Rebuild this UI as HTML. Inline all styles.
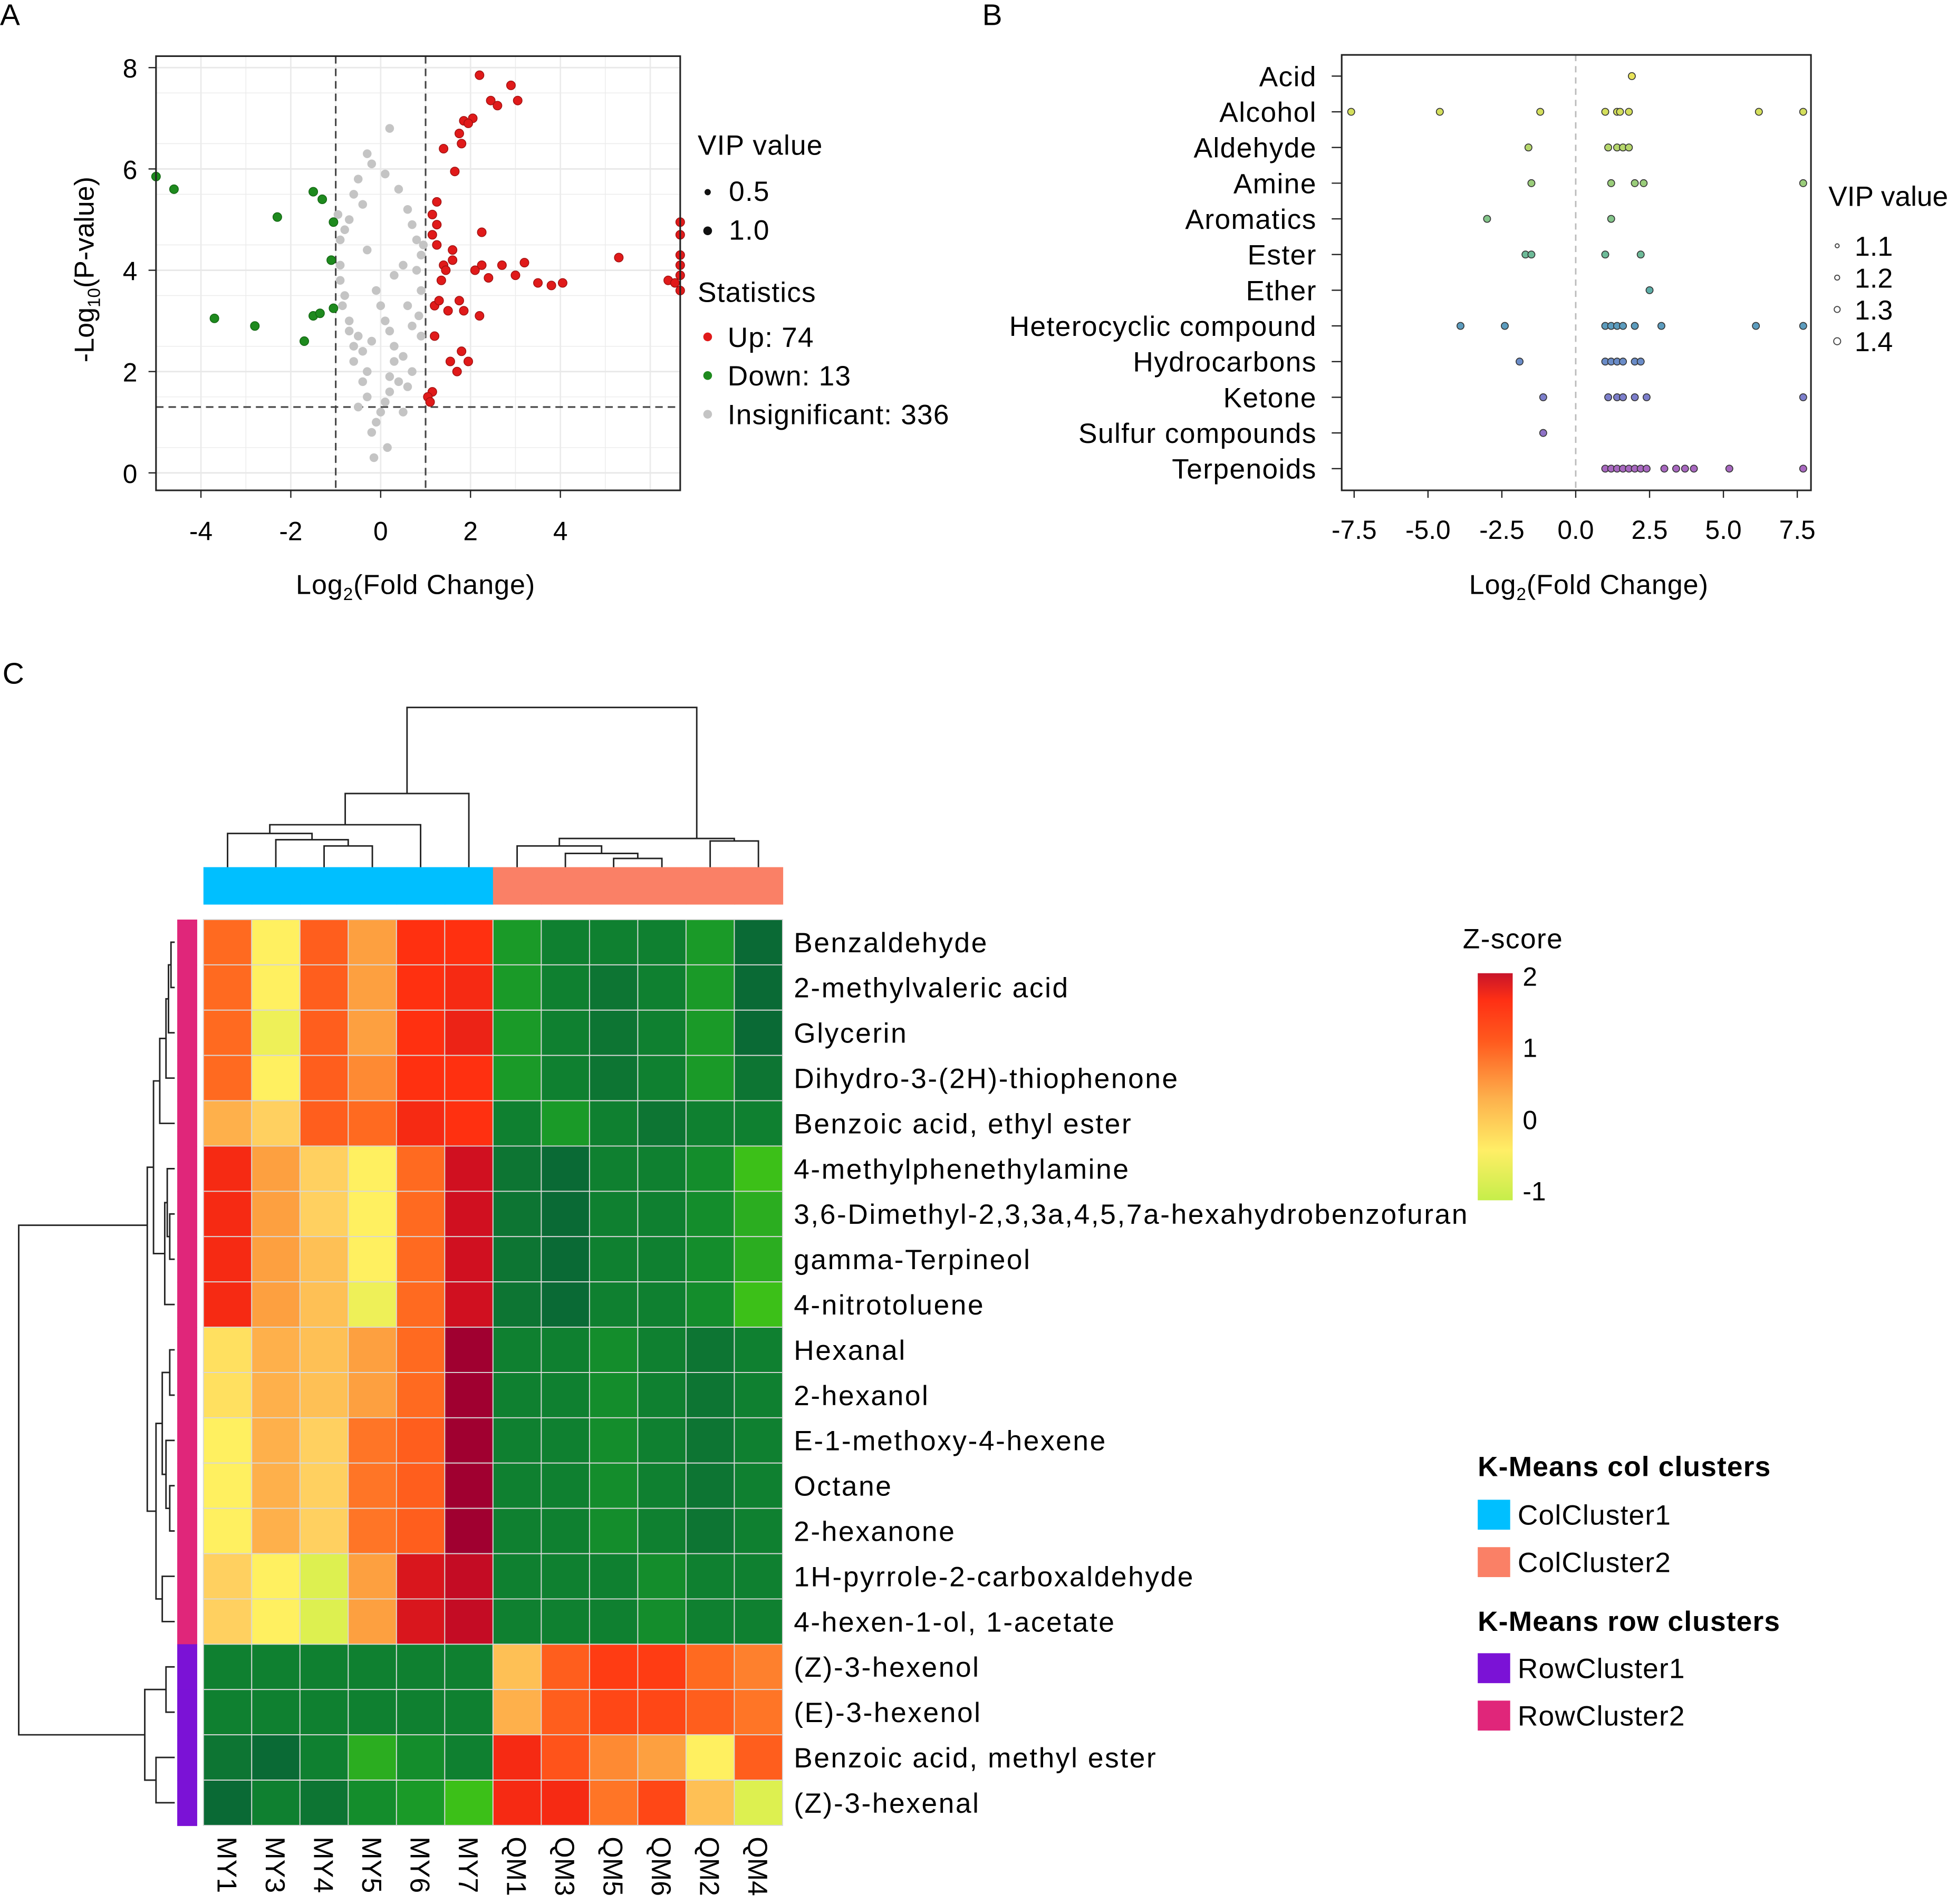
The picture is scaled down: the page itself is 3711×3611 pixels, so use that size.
<!DOCTYPE html>
<html><head><meta charset="utf-8"><style>
html,body{margin:0;padding:0;background:#fff}
svg{display:block;font-family:"Liberation Sans",Arial,sans-serif}
</style></head><body>
<svg id="fig" width="3711" height="3611" viewBox="0 0 1568 1526" preserveAspectRatio="none" xmlns="http://www.w3.org/2000/svg">
<rect width="1568" height="1526" fill="#fff"/>
<text x="0" y="20" font-size="24">A</text>
<text x="787" y="20" font-size="24">B</text>
<text x="2" y="548" font-size="24">C</text>
<g id="pa"></g>
<g id="pb"></g>
<g id="pc"></g>
</svg>
<script>
const NS="http://www.w3.org/2000/svg";
function mk(p,t,a,txt){const e=document.createElementNS(NS,t);for(const k in a)e.setAttribute(k,a[k]);if(txt!==undefined)e.textContent=txt;p.appendChild(e);return e;}

// ---------- Panel A data ----------
const upX=[2.2,2.9,3.05,2.45,2.6,2.05,1.85,1.95,1.75,1.8,1.4,1.65,1.25,1.15,1.25,1.15,1.25,2.25,1.6,1.4,1.45,1.35,1.6,2.1,2.25,2.4,2.7,3.0,3.2,3.5,3.8,4.05,5.3,6.4,6.55,6.67,6.67,6.67,6.67,6.67,6.67,1.2,1.3,1.5,1.75,1.85,2.2,1.8,1.95,1.7,1.55,1.2,1.15,1.05,1.1];
const upY=[7.85,7.65,7.35,7.35,7.25,7.0,6.95,6.9,6.7,6.5,6.4,5.95,5.35,5.1,4.9,4.7,4.5,4.75,4.4,4.1,4.0,3.8,4.2,4.0,4.1,3.85,4.1,3.9,4.15,3.75,3.7,3.75,4.25,3.8,3.75,4.95,4.7,4.3,4.1,3.9,3.6,3.3,3.4,3.2,3.4,3.2,3.1,2.4,2.2,2.0,2.2,2.7,1.6,1.5,1.4];
const downX=[-5,-4.6,-2.3,-1.5,-1.3,-1.05,-1.1,-3.7,-2.8,-1.7,-1.5,-1.35,-1.05];
const downY=[5.85,5.6,5.05,5.55,5.4,4.95,4.2,3.05,2.9,2.6,3.1,3.15,3.25];
const insX=[-0.3,-0.2,-0.5,-0.6,-0.4,-0.7,-0.8,-0.9,-0.3,0.1,0.2,0.4,0.6,0.7,0.8,0.9,0.5,0.3,-0.1,0,0.1,0.2,-0.2,-0.4,-0.6,-0.8,-0.9,-0.7,-0.5,-0.3,0.3,0.5,0.7,0.9,0.8,0.6,0.4,0.2,0,-0.1,-0.2,-0.3,0.1,0.2,0.3,-0.4,-0.5,0.5,0.6,-0.6,0.7,-0.7,0.85,-0.85,0.95,-0.95,0.9,-0.9,0.15,-0.15];
const insY=[6.3,6.1,5.8,5.5,5.3,5.0,4.8,4.6,4.4,5.9,6.8,5.6,5.2,4.9,4.6,4.3,4.1,3.9,3.6,3.3,3.0,2.8,2.6,2.4,2.2,3.5,3.8,3.0,2.7,2.0,2.5,2.3,2.9,3.6,4.0,3.3,1.8,1.6,1.2,1.0,0.8,1.5,1.4,1.9,2.2,1.8,1.3,1.2,1.7,2.5,2.0,2.8,3.1,3.3,4.5,5.1,2.7,4.1,0.5,0.3];

(function(){
const g=document.getElementById('pa');
const L=125,R=545,T=45,B=393;
const xs=v=>305+36*v, ys=v=>379-40.6*v;
mk(g,'rect',{x:L,y:T,width:R-L,height:B-T,fill:'#fff'});
for(let v=-5;v<=6.5;v+=1){mk(g,'line',{x1:xs(v),x2:xs(v),y1:T,y2:B,stroke:'#ebebeb','stroke-width':v%2===0?1.2:0.6});}
for(let v=-0.5;v<=8.5;v+=1){if(ys(v)<T||ys(v)>B)continue;mk(g,'line',{x1:L,x2:R,y1:ys(v),y2:ys(v),stroke:'#ebebeb','stroke-width':0.6});}
for(let v=0;v<=8;v+=2){mk(g,'line',{x1:L,x2:R,y1:ys(v),y2:ys(v),stroke:'#e8e8e8','stroke-width':1.2});}
[-1,1].forEach(v=>mk(g,'line',{x1:xs(v),x2:xs(v),y1:T,y2:B,stroke:'#444','stroke-dasharray':'6,4','stroke-width':1.3}));
mk(g,'line',{x1:L,x2:R,y1:ys(1.3),y2:ys(1.3),stroke:'#444','stroke-dasharray':'6,4','stroke-width':1.3});
insX.forEach((v,i)=>{const c=mk(g,'circle',{cx:xs(v),cy:ys(insY[i]),r:3.5,fill:'#c4c4c4'});

});
downX.forEach((v,i)=>{const c=mk(g,'circle',{cx:Math.max(L,xs(v)),cy:ys(downY[i]),r:3.5,fill:'#1e8a1e',stroke:'#126612','stroke-width':0.6});

});
upX.forEach((v,i)=>{const c=mk(g,'circle',{cx:Math.min(R,xs(v)),cy:ys(upY[i]),r:3.5,fill:'#e01a1a',stroke:'#a01010','stroke-width':0.6});

});
mk(g,'rect',{x:L,y:T,width:R-L,height:B-T,fill:'none',stroke:'#222','stroke-width':1.3});
[-4,-2,0,2,4].forEach(v=>{mk(g,'line',{x1:xs(v),x2:xs(v),y1:B,y2:B+6,stroke:'#222'});
const t=mk(g,'text',{x:xs(v),y:433,'font-size':21,'text-anchor':'middle'},v);

});
[0,2,4,6,8].forEach(v=>{mk(g,'line',{x1:L-6,x2:L,y1:ys(v),y2:ys(v),stroke:'#222'});
const t=mk(g,'text',{x:110,y:ys(v)+8,'font-size':21,'text-anchor':'end'},v);

});
const xt=mk(g,'text',{x:333,y:476,'font-size':22,'text-anchor':'middle','letter-spacing':'0.4'});
xt.innerHTML='Log<tspan font-size="14" dy="5">2</tspan><tspan dy="-5">(Fold Change)</tspan>';


const yt=mk(g,'text',{transform:'translate(75,216) rotate(-90)','font-size':22,'text-anchor':'middle'});
yt.innerHTML='-Log<tspan font-size="14" dy="5">10</tspan><tspan dy="-5">(P-value)</tspan>';


const lg=mk(g,'g',{'letter-spacing':'0.5'});


mk(lg,'text',{x:559,y:124,'font-size':22.5},'VIP value');
mk(lg,'circle',{cx:567,cy:154,r:2.5,fill:'#111'});mk(lg,'text',{x:584,y:161,'font-size':22.5},'0.5');
mk(lg,'circle',{cx:567,cy:185,r:3.5,fill:'#111'});mk(lg,'text',{x:584,y:192,'font-size':22.5},'1.0');
mk(lg,'text',{x:559,y:242,'font-size':22.5},'Statistics');
[['#e01a1a','Up: 74',270],['#1e8a1e','Down: 13',301],['#c4c4c4','Insignificant: 336',332]].forEach(a=>{
mk(lg,'circle',{cx:567,cy:a[2],r:3.5,fill:a[0]});mk(lg,'text',{x:583,y:a[2]+8,'font-size':22.5},a[1]);});
})();

// ---------- Panel B data ----------
const bCats=['Acid','Alcohol','Aldehyde','Amine','Aromatics','Ester','Ether','Heterocyclic compound','Hydrocarbons','Ketone','Sulfur compounds','Terpenoids'];
const bVals=[[1.9],[-7.6,-4.6,-1.2,1.0,1.4,1.5,1.8,6.2,7.7],[-1.6,1.1,1.4,1.6,1.8],[-1.5,1.2,2.0,2.3,7.7],[-3.0,1.2],[-1.7,-1.5,1.0,2.2],[2.5],[-3.9,-2.4,1.0,1.2,1.4,1.6,2.0,2.9,6.1,7.7],[-1.9,1.0,1.2,1.4,1.6,2.0,2.2],[-1.1,1.1,1.4,1.6,2.0,2.4,7.7],[-1.1],[1.0,1.2,1.4,1.6,1.8,2.0,2.2,2.4,3.0,3.4,3.7,4.0,5.2,7.7]];
const bTicks=[-7.5,-5.0,-2.5,0.0,2.5,5.0,7.5];
const bColors=['#e8e35a','#d4df5c','#b6d76c','#9acd7a','#83c58a','#6dba98','#5daea8','#5c9cbe','#6a8cc8','#7c7ecb','#8e72c6','#a868c0'];
(function(){
const g=document.getElementById('pb');
const L=1075,R=1451,T=44,B=393;
const xs=v=>1262.5+23.67*v, ys=i=>61+28.6*i;
mk(g,'line',{x1:xs(0),x2:xs(0),y1:T,y2:B,stroke:'#bbb','stroke-dasharray':'5,4','stroke-width':1.2});
bCats.forEach((c,i)=>{
 const t=mk(g,'text',{x:1055,y:ys(i)+8,'font-size':22.5,'text-anchor':'end','letter-spacing':'0.6'},c);
 
 
 mk(g,'line',{x1:L-8,x2:L,y1:ys(i),y2:ys(i),stroke:'#222'});
 bVals[i].forEach(v=>{const p=mk(g,'circle',{cx:Math.max(L+3,Math.min(R-5,xs(v))),cy:ys(i),r:2.8,fill:bColors[i],stroke:'#333','stroke-width':0.7});
 
 });
});
mk(g,'rect',{x:L,y:T,width:R-L,height:B-T,fill:'none',stroke:'#222','stroke-width':1.3});
bTicks.forEach(v=>{mk(g,'line',{x1:xs(v),x2:xs(v),y1:B,y2:B+6,stroke:'#222'});
const t=mk(g,'text',{x:xs(v),y:432,'font-size':21,'text-anchor':'middle'},v.toFixed(1));

});
const xt=mk(g,'text',{x:1273,y:476,'font-size':22,'text-anchor':'middle','letter-spacing':'0.4'});
xt.innerHTML='Log<tspan font-size="14" dy="5">2</tspan><tspan dy="-5">(Fold Change)</tspan>';


const lg=mk(g,'g',{});


mk(lg,'text',{x:1465,y:165,'font-size':22.5},'VIP value');
[['1.1',1.6],['1.2',2.0],['1.3',2.4],['1.4',2.8]].forEach((a,i)=>{const y=197+25.5*i;
mk(lg,'circle',{cx:1472,cy:y,r:a[1],fill:'none',stroke:'#444','stroke-width':0.8});
mk(lg,'text',{x:1486,y:y+8,'font-size':22},a[0]);});
})();

// ---------- Panel C data ----------
const hRows=['Benzaldehyde','2-methylvaleric acid','Glycerin','Dihydro-3-(2H)-thiophenone','Benzoic acid, ethyl ester','4-methylphenethylamine','3,6-Dimethyl-2,3,3a,4,5,7a-hexahydrobenzofuran','gamma-Terpineol','4-nitrotoluene','Hexanal','2-hexanol','E-1-methoxy-4-hexene','Octane','2-hexanone','1H-pyrrole-2-carboxaldehyde','4-hexen-1-ol, 1-acetate','(Z)-3-hexenol','(E)-3-hexenol','Benzoic acid, methyl ester','(Z)-3-hexenal'];
const hCols=['MY1','MY3','MY4','MY5','MY6','MY7','QM1','QM3','QM5','QM6','QM2','QM4'];
const hVals=[
[0.4,-0.6,0.5,-0.1,0.9,0.9,-1.2,-1.4,-1.4,-1.4,-1.2,-1.6],
[0.4,-0.6,0.5,-0.1,0.9,1.0,-1.2,-1.4,-1.5,-1.4,-1.2,-1.6],
[0.4,-0.7,0.5,-0.1,0.9,1.1,-1.2,-1.4,-1.5,-1.4,-1.2,-1.6],
[0.4,-0.6,0.5,0.1,0.9,0.9,-1.2,-1.4,-1.5,-1.4,-1.2,-1.5],
[-0.2,-0.4,0.5,0.4,1.0,0.9,-1.4,-1.2,-1.4,-1.5,-1.4,-1.4],
[1.0,-0.1,-0.4,-0.6,0.4,1.4,-1.5,-1.6,-1.4,-1.4,-1.3,-1.0],
[1.0,-0.1,-0.4,-0.6,0.4,1.4,-1.5,-1.6,-1.4,-1.4,-1.3,-1.1],
[1.0,-0.1,-0.3,-0.6,0.4,1.4,-1.5,-1.6,-1.4,-1.4,-1.3,-1.1],
[1.0,-0.1,-0.3,-0.7,0.4,1.4,-1.5,-1.6,-1.4,-1.4,-1.3,-1.0],
[-0.5,-0.2,-0.3,-0.1,0.4,1.8,-1.4,-1.4,-1.3,-1.4,-1.5,-1.4],
[-0.5,-0.2,-0.3,-0.1,0.4,1.8,-1.4,-1.4,-1.3,-1.4,-1.5,-1.4],
[-0.6,-0.2,-0.4,0.3,0.5,1.8,-1.4,-1.4,-1.3,-1.4,-1.5,-1.4],
[-0.6,-0.2,-0.4,0.3,0.5,1.8,-1.4,-1.4,-1.3,-1.4,-1.5,-1.4],
[-0.6,-0.2,-0.4,0.3,0.5,1.8,-1.4,-1.4,-1.3,-1.4,-1.5,-1.4],
[-0.4,-0.6,-0.8,-0.1,1.3,1.5,-1.4,-1.4,-1.4,-1.3,-1.4,-1.4],
[-0.4,-0.6,-0.8,-0.1,1.3,1.5,-1.4,-1.4,-1.4,-1.3,-1.4,-1.4],
[-1.4,-1.4,-1.4,-1.4,-1.4,-1.4,-0.3,0.5,0.8,0.8,0.4,0.2],
[-1.4,-1.4,-1.4,-1.4,-1.4,-1.4,-0.2,0.5,0.7,0.7,0.5,0.3],
[-1.5,-1.6,-1.4,-1.1,-1.3,-1.4,1.0,0.6,0.1,-0.1,-0.6,0.5],
[-1.6,-1.4,-1.5,-1.3,-1.2,-1.0,1.0,1.0,0.3,0.7,-0.3,-0.8]];
const rowCluster=[2,2,2,2,2,2,2,2,2,2,2,2,2,2,2,2,1,1,1,1];
const colCluster=[1,1,1,1,1,1,2,2,2,2,2,2];
const stops=[[-1.6,[10,106,53]],[-1.4,[15,128,48]],[-1.2,[26,154,40]],[-1.0,[60,192,24]],[-0.8,[221,240,80]],[-0.6,[255,240,96]],[-0.4,[255,208,96]],[-0.1,[253,160,64]],[0.4,[255,106,32]],[0.9,[255,48,16]],[1.4,[208,16,32]],[1.8,[160,0,48]]];
function col(v){if(v<=stops[0][0])return 'rgb('+stops[0][1]+')';
for(let i=1;i<stops.length;i++){if(v<=stops[i][0]){const a=stops[i-1],b=stops[i],t=(v-a[0])/(b[0]-a[0]);
return 'rgb('+a[1].map((c,k)=>Math.round(c+(b[1][k]-c)*t)).join(',')+')';}}
return 'rgb('+stops[stops.length-1][1]+')';}
(function(){
const g=document.getElementById('pc');
const X0=163,Y0=737,cw=(627-163)/12,rh=(1463-737)/20;
const cx=i=>X0+cw*(i+0.5), ry=i=>Y0+rh*(i+0.5);
hVals.forEach((row,r)=>row.forEach((v,c)=>{const e=mk(g,'rect',{x:X0+cw*c,y:Y0+rh*r,width:cw,height:rh,fill:col(v),stroke:'#d8d8d8','stroke-width':0.8});

}));
hRows.forEach((n,r)=>{const t=mk(g,'text',{x:636,y:ry(r)+8,'font-size':22.5,'letter-spacing':'1.1'},n);

});
hCols.forEach((n,c)=>{const t=mk(g,'text',{transform:'translate('+(cx(c)-8)+',1472) rotate(90)','font-size':22},n);

});
colCluster.forEach((k,c)=>{const e=mk(g,'rect',{x:X0+cw*c,y:695,width:cw+0.5,height:30,fill:k===1?'#00bfff':'#fa8066'});

});
rowCluster.forEach((k,r)=>{const e=mk(g,'rect',{x:142,y:Y0+rh*r,width:16,height:rh+0.5,fill:k===1?'#7b12d6':'#e0267a'});

});
// column dendrogram
const cd=mk(g,'g',{fill:'none',stroke:'#222','stroke-width':1.2});


function jv(p,x1,y1,x2,y2,h){mk(p,'path',{d:`M${x1},${y1}V${h}H${x2}V${y2}`});return [(x1+x2)/2,h];}
const L=695;
let a=jv(cd,cx(2),L,cx(3),L,678);
a=jv(cd,cx(1),L,a[0],a[1],673);
a=jv(cd,cx(0),L,a[0],a[1],668);
a=jv(cd,a[0],a[1],cx(4),L,661);
const left=jv(cd,a[0],a[1],cx(5),L,636);
let b=jv(cd,cx(8),L,cx(9),L,688);
b=jv(cd,cx(7),L,b[0],b[1],684);
b=jv(cd,cx(6),L,b[0],b[1],678);
let b2=jv(cd,cx(10),L,cx(11),L,674);
const right=jv(cd,b[0],b[1],b2[0],b2[1],672);
jv(cd,left[0],left[1],right[0]+40,right[1],567);
// row dendrogram
const rd=mk(g,'g',{fill:'none',stroke:'#222','stroke-width':1.2});


function jh(p,y1,x1,y2,x2,h,mid){mk(p,'path',{d:`M${x1},${y1}H${h}V${y2}H${x2}`});return [mid!==undefined?mid:(y1+y2)/2,h];}
const RL=140;
let r1=jh(rd,ry(0),RL,ry(1),RL,137);
r1=jh(rd,r1[0],r1[1],ry(2),RL,135);
r1=jh(rd,r1[0],r1[1],ry(3),RL,133);
r1=jh(rd,r1[0],r1[1],ry(4),RL,128);
let r2=jh(rd,ry(6),RL,ry(7),RL,136);
r2=jh(rd,ry(5),RL,r2[0],r2[1],134);
r2=jh(rd,r2[0],r2[1],ry(8),RL,132);
const rA=jh(rd,r1[0],r1[1],r2[0],r2[1],123);
let r3=jh(rd,ry(9),RL,ry(10),RL,136);
let r4=jh(rd,ry(12),RL,ry(13),RL,136);
r4=jh(rd,ry(11),RL,r4[0],r4[1],133);
r3=jh(rd,r3[0],r3[1],r4[0],r4[1],130);
let r5=jh(rd,ry(14),RL,ry(15),RL,130);
const rB=jh(rd,r3[0],r3[1],r5[0],r5[1],125);
const up=jh(rd,rA[0],rA[1],rB[0],rB[1],118,982);
let l1=jh(rd,ry(16),RL,ry(17),RL,133);
let l2=jh(rd,ry(18),RL,ry(19),RL,125);
const lo=jh(rd,l1[0],l1[1],l2[0],l2[1],116);
jh(rd,up[0],up[1],lo[0],lo[1],15);
// legends
const lg=mk(g,'g',{});


const defs=mk(lg,'defs',{});
const gr=mk(defs,'linearGradient',{id:'zg',x1:0,y1:1,x2:0,y2:0});
[[0,'#c6ee4a'],[0.22,'#ffee66'],[0.45,'#fdb04c'],[0.7,'#ff5a1e'],[0.88,'#ff3014'],[1,'#c8142a']].forEach(s=>mk(gr,'stop',{offset:s[0],'stop-color':s[1]}));
mk(lg,'text',{x:1172,y:760,'font-size':22.5,'letter-spacing':'0.6'},'Z-score');
mk(lg,'rect',{x:1184,y:780,width:28,height:182,fill:'url(#zg)'});
[['2',790],['1',847],['0',905],['-1',962]].forEach(a=>mk(lg,'text',{x:1220,y:a[1],'font-size':21},a[0]));
const kl=mk(g,'g',{'letter-spacing':'0.5'});


mk(kl,'text',{x:1184,y:1183,'font-size':22.5,'font-weight':'bold'},'K-Means col clusters');
mk(kl,'rect',{x:1184,y:1202,width:26,height:24,fill:'#00bfff'});mk(kl,'text',{x:1216,y:1222,'font-size':22.5},'ColCluster1');
mk(kl,'rect',{x:1184,y:1240,width:26,height:24,fill:'#fa8066'});mk(kl,'text',{x:1216,y:1260,'font-size':22.5},'ColCluster2');
mk(kl,'text',{x:1184,y:1307,'font-size':22.5,'font-weight':'bold'},'K-Means row clusters');
mk(kl,'rect',{x:1184,y:1325,width:26,height:24,fill:'#7b12d6'});mk(kl,'text',{x:1216,y:1345,'font-size':22.5},'RowCluster1');
mk(kl,'rect',{x:1184,y:1363,width:26,height:24,fill:'#e0267a'});mk(kl,'text',{x:1216,y:1383,'font-size':22.5},'RowCluster2');
})();
</script>
</body></html>
